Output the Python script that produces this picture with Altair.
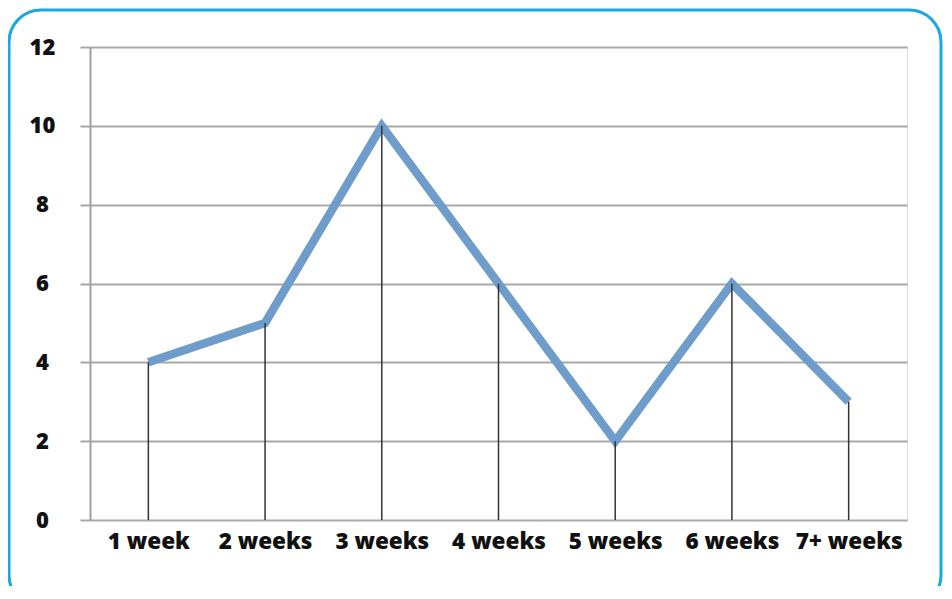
import altair as alt
import pandas as pd

categories = ["1 week", "2 weeks", "3 weeks", "4 weeks", "5 weeks", "6 weeks", "7+ weeks"]
values = [4, 5, 10, 6, 2, 6, 3]

df = pd.DataFrame({"cat": categories, "val": values})

FONT = "Open Sans"

x = alt.X("cat:N", sort=categories, title=None,
          scale=alt.Scale(type="point", padding=0.5),
          axis=alt.Axis(labelAngle=0, domain=False, ticks=False, grid=False,
                        labelFont=FONT, labelFontSize=22.5, labelFontWeight=800,
                        labelColor="#111111", labelPadding=10))
y = alt.Y("val:Q", title=None,
          scale=alt.Scale(domain=[0, 12], nice=False),
          axis=alt.Axis(values=[0, 2, 4, 6, 8, 10, 12], grid=True, gridColor="#a8a8a8",
                        gridWidth=2, domainColor="#a0a0a0", domainWidth=2,
                        tickColor="#a8a8a8", tickWidth=2, tickSize=10,
                        labelFont=FONT, labelFontSize=22, labelFontWeight=800,
                        labelColor="#111111", labelAlign="center", labelBaseline="middle",
                        labelPadding=38, minExtent=82, maxExtent=82))

base = alt.Chart(df)

line = base.mark_line(color="#6f9dcb", strokeWidth=8.5, strokeJoin="miter", strokeCap="butt").encode(x=x, y=y)
rules = base.mark_rule(color="#333333", strokeWidth=1.5).encode(x=x, y=y, y2=alt.datum(0))

border = alt.Chart(pd.DataFrame({"a": [0]})).mark_rect(
    filled=False, stroke="#1aa7e4", strokeWidth=3, cornerRadius=32
).encode(x=alt.value(-81), x2=alt.value(851), y=alt.value(-37), y2=alt.value(560))

chart = alt.layer(line, rules, border).properties(
    width=817, height=473,
    autosize=alt.AutoSizeParams(type="none"),
    padding={"left": 82, "top": 39, "right": 37, "bottom": 66},
).configure_view(stroke=None).configure(background="white")

chart.save("out.html", embed_options={"renderer": "svg", "actions": False})
